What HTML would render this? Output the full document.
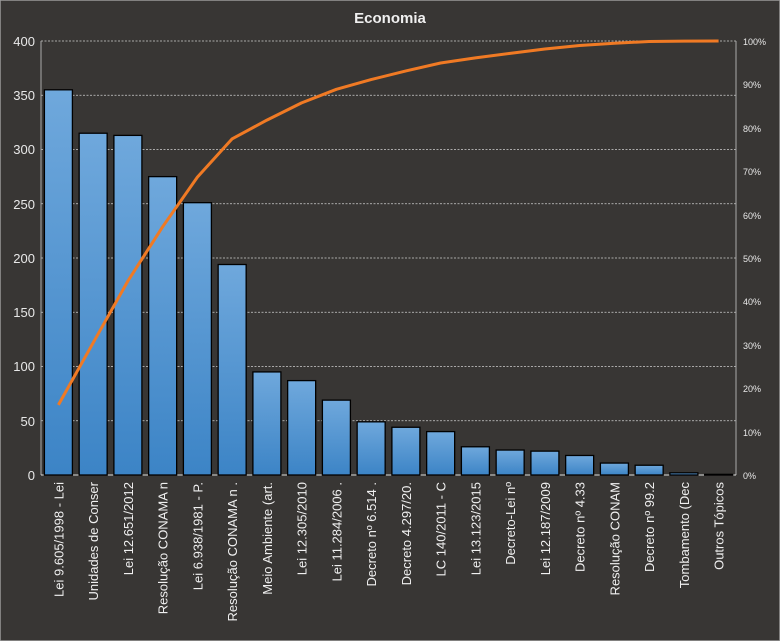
<!DOCTYPE html>
<html><head><meta charset="utf-8"><style>body{margin:0;background:#383634}svg{display:block}text{font-family:"Liberation Sans",sans-serif}</style></head><body>
<svg width="780" height="641" viewBox="0 0 780 641">
<defs><linearGradient id="g" x1="0" y1="0" x2="0" y2="1"><stop offset="0" stop-color="#6fa8dc"/><stop offset="1" stop-color="#3c84c6"/></linearGradient></defs>
<rect x="0" y="0" width="780" height="641" fill="#383634" stroke="#9a9a9a" stroke-width="1.5"/>
<text x="390" y="23" fill="#f0f0f0" font-size="15" font-weight="bold" text-anchor="middle">Economia</text>
<g stroke="#cfcfcf" stroke-width="0.8" stroke-dasharray="2,1.5">
<line x1="41" x2="736" y1="41" y2="41"/><line x1="41" x2="736" y1="95.25" y2="95.25"/><line x1="41" x2="736" y1="149.5" y2="149.5"/><line x1="41" x2="736" y1="203.75" y2="203.75"/><line x1="41" x2="736" y1="258" y2="258"/><line x1="41" x2="736" y1="312.25" y2="312.25"/><line x1="41" x2="736" y1="366.5" y2="366.5"/><line x1="41" x2="736" y1="420.75" y2="420.75"/>
</g>
<g stroke="#aaa" stroke-width="1"><line x1="41" x2="41" y1="41" y2="475"/><line x1="736" x2="736" y1="41" y2="475"/><line x1="41" x2="736" y1="475" y2="475" stroke="#ddd"/></g>
<g fill="#e8e8e8" font-size="13" text-anchor="end">
<text x="35" y="46">400</text><text x="35" y="100">350</text><text x="35" y="154">300</text><text x="35" y="209">250</text><text x="35" y="263">200</text><text x="35" y="317">150</text><text x="35" y="371">100</text><text x="35" y="426">50</text><text x="35" y="480">0</text>
</g>
<g fill="#e8e8e8" font-size="9">
<text x="743" y="45">100%</text><text x="743" y="88">90%</text><text x="743" y="132">80%</text><text x="743" y="175">70%</text><text x="743" y="219">60%</text><text x="743" y="262">50%</text><text x="743" y="305">40%</text><text x="743" y="349">30%</text><text x="743" y="392">20%</text><text x="743" y="436">10%</text><text x="743" y="479">0%</text>
</g>
<g fill="url(#g)" stroke="#000" stroke-width="1.3" id="bars"></g>
<g fill="#f0f0f0" font-size="13" id="labels"></g>
<polyline id="ln" fill="none" stroke="#f07a24" stroke-width="3" stroke-linejoin="round"/>
<script>
var v=[355,315,313,275,251,194,95,87,69,49,44,40,26,23,22,18,11,9,2,0.6];
var L=["Lei 9.605/1998 - Lei","Unidades de Conser","Lei 12.651/2012","Resolução CONAMA n","Lei 6.938/1981 - P.","Resolução CONAMA n .","Meio Ambiente (art.","Lei 12.305/2010","Lei 11.284/2006 .","Decreto nº 6.514 .","Decreto 4.297/20.","LC 140/2011 - C","Lei 13.123/2015","Decreto-Lei nº","Lei 12.187/2009","Decreto nº 4.33","Resolução CONAM","Decreto nº 99.2","Tombamento  (Dec","Outros Tópicos"];
var ns="http://www.w3.org/2000/svg",b=document.getElementById("bars"),lb=document.getElementById("labels");
var tot=v.reduce(function(a,c){return a+c},0),cum=0,pts=[];
for(var i=0;i<20;i++){var cx=41+17.4+34.75*i,h=v[i]*1.085;
var r=document.createElementNS(ns,"rect");r.setAttribute("x",cx-14);r.setAttribute("width",28);r.setAttribute("y",475-h);r.setAttribute("height",h);b.appendChild(r);
var t=document.createElementNS(ns,"text");t.setAttribute("transform","translate("+(cx+5)+",482) rotate(-90)");t.setAttribute("text-anchor","end");t.textContent=L[i];lb.appendChild(t);
cum+=v[i];pts.push(cx.toFixed(1)+","+(475-434*cum/tot).toFixed(1));}
document.getElementById("ln").setAttribute("points",pts.join(" "));
</script>
</svg>
</body></html>
